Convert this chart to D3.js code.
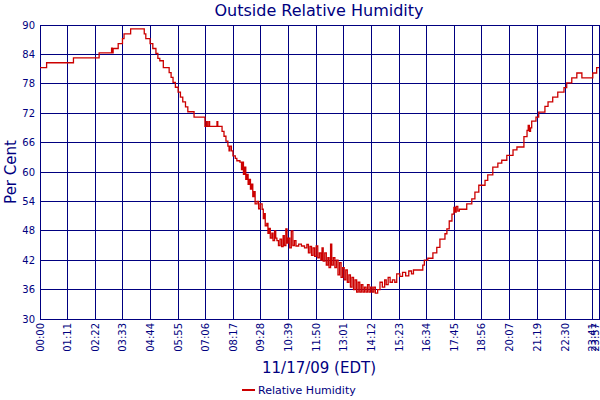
<!DOCTYPE html>
<html><head><meta charset="utf-8">
<script src="https://cdn.jsdelivr.net/npm/d3@7"></script>
<style>body{margin:0;background:#fff}svg{display:block}</style>
</head><body>
<svg id="c" width="600" height="400"></svg>
<script>
const titleText = "Outside Relative Humidity";
const xTitle = "11/17/09 (EDT)";
const yTitle = "Per Cent";
const seriesName = "Relative Humidity";
const yTicks = [30,36,42,48,54,60,66,72,78,84,90];
const xTickLabels = ["00:00","01:11","02:22","03:33","04:44","05:55","07:06","08:17","09:28","10:39","11:50","13:01","14:12","15:23","16:34","17:45","18:56","20:07","21:19","22:30","23:41","23:57"];
// minutes after midnight
const minutes = [0,17,86,152,184,186,188,201,212,216,233,268,272,283,290,298,303,308,317,332,337,342,348,355,361,367,374,380,396,424,428,430,434,436,455,457,468,473,478,483,486,488,492,496,502,506,
514,518,520,523,526,529,532,535,538,541,544,547,550,553,558,562,566,571,574,576,579,583,586,589,592,596,599,603,606,609,613,617,621,625,628,632,635,638,642,646,650,654,658,665,672,680,686,690,694,698,702,706,710,714,718,722,725,728,732,736,740,743,747,750,754,758,762,766,770,774,778,782,786,790,794,798,802,806,810,814,818,822,826,830,834,838,842,846,850,854,858,862,868,874,880,886,890,895,900,906,912,917,925,932,940,948,955,960,984,988,997,1010,1020,1028,1041,1046,1052,1059,1064,1067,1070,1074,1078,1097,1110,1118,1128,1144,1151,1164,1177,1187,1200,1216,1226,1244,1252,1255,1258,1261,1264,1275,1282,1298,1306,1318,1331,1347,1354,1367,1380,1393,1421,1431,1437];
const humidity = [81.3,82.3,83.3,84.3,85.3,84.3,85.2,86.2,87.2,88.2,89.2,88.2,87.2,86.2,85.2,84.2,83.2,82.7,81.3,80.3,79.3,78.3,77.3,76.3,75.3,74.3,73.3,72.3,71.2,69.3,70.3,69.3,70.3,69.3,70.3,69.3,68.3,67.3,66.3,65.3,64.3,65.3,64.3,63.3,62.8,62.3,
62.0,60.5,62.0,59.5,61.0,58.5,59.5,57.5,58.5,56.5,57.5,55.0,56.0,53.5,54.0,52.5,53.5,52.4,50.5,51.5,49.0,49.5,47.5,48.5,46.5,47.5,46.0,48.0,46.5,46.0,45.0,46.3,44.8,47.0,45.0,48.4,45.5,46.5,44.5,48.0,45.0,46.0,44.9,45.3,44.9,44.5,45.2,43.5,44.8,43.0,44.5,42.8,44.9,42.5,43.5,42.0,44.5,41.8,43.5,41.0,42.5,40.5,45.3,41.0,42.5,40.5,42.0,39.0,41.5,38.5,40.5,38.0,40.0,37.5,39.0,36.5,38.5,36.0,38.0,35.5,37.5,35.5,37.0,35.5,36.5,35.5,37.0,35.5,36.5,35.5,36.5,35.3,36.0,37.5,36.5,38.0,37.0,38.5,37.5,38.0,37.5,39.2,38.7,39.5,38.8,39.8,39.2,40.0,41.0,42.0,42.4,43.5,44.6,46.3,47.4,48.4,50.0,51.4,52.8,51.8,53.0,52.0,52.4,53.5,54.5,55.9,57.3,58.3,59.4,61.0,61.8,62.4,63.4,64.5,65.1,67.2,68.5,69.5,68.3,69.0,70.4,71.2,72.2,73.4,74.3,75.3,76.3,77.2,78.2,79.2,80.2,79.2,80.2,81.3,81.3];

const navy = "#000080", red = "#cc0000";
const font = "DejaVu Sans, Verdana, sans-serif";
const m = {l:40, r:599, t:25, b:319};
const svg = d3.select("#c");
const toMin = s => { const [h, mm] = s.split(":").map(Number); return h*60+mm; };

const x = d3.scaleLinear().domain([0, d3.max(minutes)]).range([m.l, m.r]);
const y = d3.scaleLinear().domain([30, 90]).range([m.b, m.t]);

// grid
const g = svg.append("g").attr("shape-rendering","crispEdges");
g.selectAll("line.h").data(yTicks).join("line")
  .attr("x1", m.l).attr("x2", m.r).attr("y1", d=>y(d)).attr("y2", d=>y(d))
  .attr("stroke", navy).attr("stroke-width", 1);
g.selectAll("line.v").data(xTickLabels).join("line")
  .attr("x1", d=>x(toMin(d))).attr("x2", d=>x(toMin(d))).attr("y1", m.t).attr("y2", m.b)
  .attr("stroke", navy).attr("stroke-width", 1);
g.append("rect").attr("x", m.l).attr("y", m.t).attr("width", m.r-m.l).attr("height", m.b-m.t)
  .attr("fill","none").attr("stroke", navy).attr("stroke-width",1);

// line
const data = minutes.map((t,i)=>({t, v: humidity[i]}));
svg.append("path").datum(data)
  .attr("fill","none").attr("stroke", red).attr("stroke-width", 1.3)
  .attr("d", d3.line().x(d=>x(d.t)).y(d=>y(d.v)).curve(d3.curveStepAfter));

// y tick labels
svg.selectAll("text.yt").data(yTicks).join("text")
  .attr("x", 35).attr("y", d=>y(d)).attr("dy","0.35em")
  .attr("text-anchor","end").attr("fill", navy)
  .style("font-family", font).style("font-size","10px").text(d=>d);

// x tick labels (keep the last one inside the picture)
svg.selectAll("text.xt").data(xTickLabels).join("text")
  .attr("transform", d=>`translate(${Math.min(x(toMin(d)), 595.5)},323) rotate(-90)`)
  .attr("dy","0.35em").attr("text-anchor","end").attr("fill", navy)
  .style("font-family", font).style("font-size","10px").text(d=>d);

// titles
svg.append("text").attr("x", 319).attr("y", 16).attr("text-anchor","middle")
  .attr("fill", navy).style("font-family", font).style("font-size","16px").text(titleText);
svg.append("text").attr("transform","translate(16,172) rotate(-90)").attr("text-anchor","middle")
  .attr("fill", navy).style("font-family", font).style("font-size","15px").text(yTitle);
svg.append("text").attr("x", 319).attr("y", 373).attr("text-anchor","middle")
  .attr("fill", navy).style("font-family", font).style("font-size","15px").text(xTitle);

// legend
svg.append("line").attr("x1", 242).attr("x2", 255).attr("y1", 390).attr("y2", 390)
  .attr("stroke", red).attr("stroke-width", 2);
svg.append("text").attr("x", 258).attr("y", 394).attr("fill", navy)
  .style("font-family", font).style("font-size","11px").text(seriesName);
</script>
</body></html>
